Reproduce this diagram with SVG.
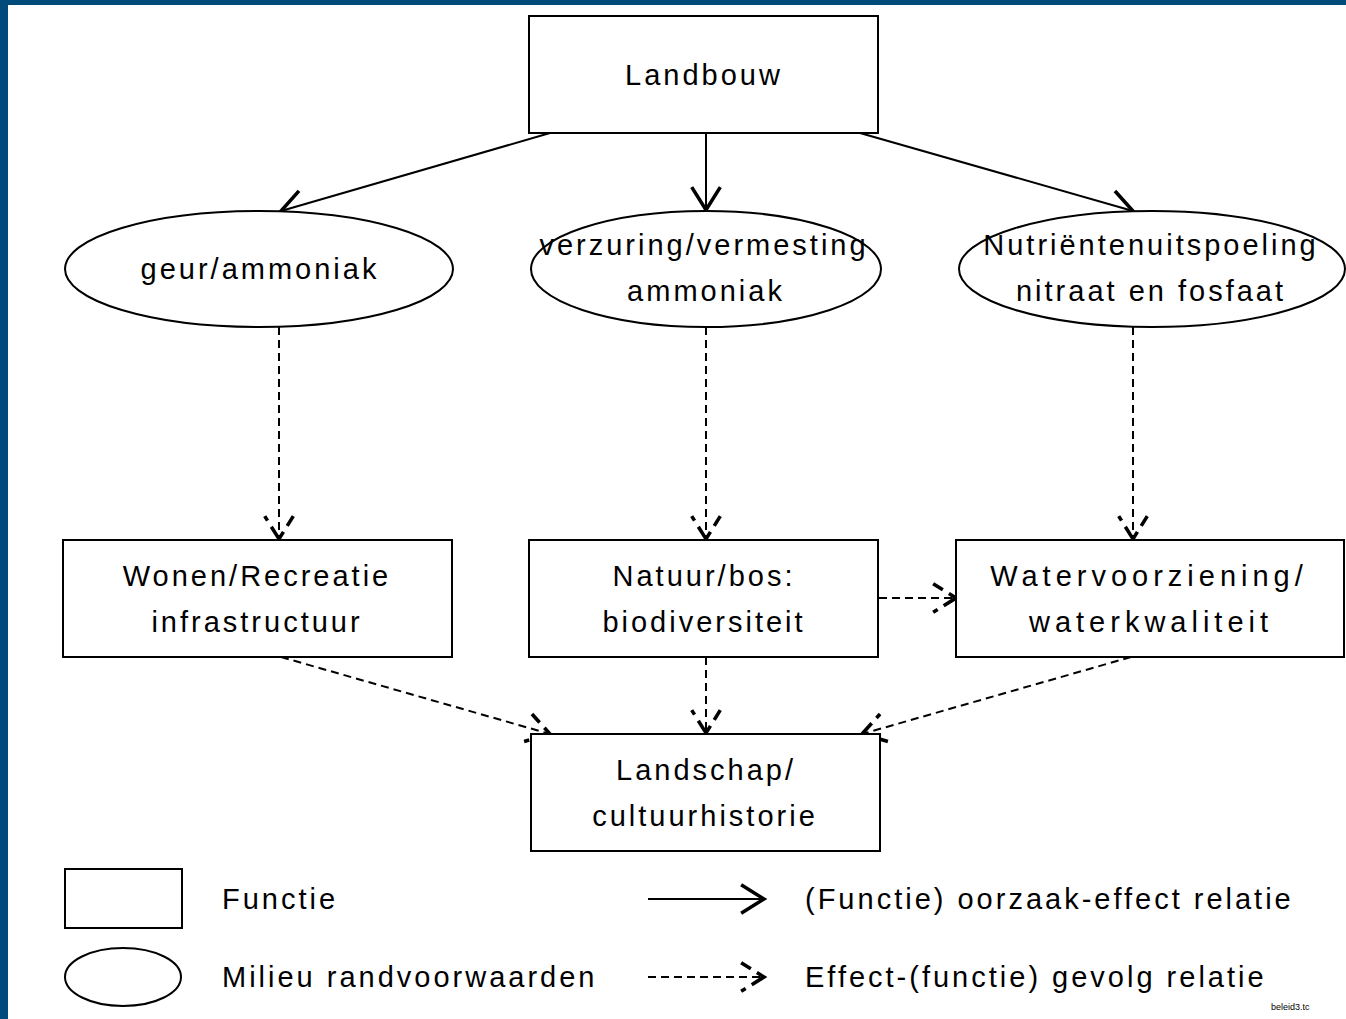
<svg xmlns="http://www.w3.org/2000/svg" width="1346" height="1019" viewBox="0 0 1346 1019">
<style>
.shape{fill:#fff;stroke:#000;stroke-width:2}
.t{font-family:"Liberation Sans",Arial,sans-serif;font-size:29px;letter-spacing:3px;fill:#000;text-anchor:middle}
.w{letter-spacing:5px}
.l{font-family:"Liberation Sans",Arial,sans-serif;font-size:29px;letter-spacing:3px;fill:#000}
.solid{fill:none;stroke:#000;stroke-width:2}
.dash{fill:none;stroke:#000;stroke-width:2;stroke-dasharray:8 5}
</style>
<defs>
<marker id="ah" markerUnits="userSpaceOnUse" markerWidth="40" markerHeight="40" refX="0" refY="0" viewBox="-22 -14 26 28" orient="auto" overflow="visible">
<path d="M-16,-10 L0,0 L-16,10" fill="none" stroke="#000" stroke-width="2.5"/>
</marker>
<marker id="dh" markerUnits="userSpaceOnUse" markerWidth="40" markerHeight="40" refX="0" refY="0" viewBox="-22 -14 26 28" orient="auto" overflow="visible">
<path d="M-16,-10 L0,0 L-16,10" fill="none" stroke="#000" stroke-width="2.5" stroke-dasharray="8 5 8 0"/>
</marker>
</defs>
<rect x="0" y="0" width="1346" height="1019" fill="#fff"/>
<rect x="0" y="0" width="1346" height="5" fill="#004b7b"/>
<rect x="0" y="0" width="8" height="1019" fill="#004b7b"/>

<g id="connectors">
<path class="solid" d="M550,133 L281,211" marker-end="url(#ah)"/>
<path class="solid" d="M706,133 L706,210" marker-end="url(#ah)"/>
<path class="solid" d="M860,133 L1133,211" marker-end="url(#ah)"/>
<path class="dash" d="M279,327 L279,539" marker-end="url(#dh)"/>
<path class="dash" d="M706,327 L706,539" marker-end="url(#dh)"/>
<path class="dash" d="M1133,327 L1133,539" marker-end="url(#dh)"/>
<path class="dash" d="M879,598 L956,598" marker-end="url(#dh)"/>
<path class="dash" d="M281,657 L550,734" marker-end="url(#dh)"/>
<path class="dash" d="M706,657 L706,733" marker-end="url(#dh)"/>
<path class="dash" d="M1131,657 L862,734" marker-end="url(#dh)"/>
</g>

<g id="landbouw">
<rect class="shape" x="529" y="16" width="349" height="117"/>
<text class="t" x="704" y="85">Landbouw</text>
</g>
<g id="geur">
<ellipse class="shape" cx="259" cy="269" rx="194" ry="58"/>
<text class="t" x="260" y="279">geur/ammoniak</text>
</g>
<g id="verzuring">
<ellipse class="shape" cx="706" cy="269" rx="175" ry="58"/>
<text class="t" x="704" y="255">verzuring/vermesting</text>
<text class="t" x="706" y="301">ammoniak</text>
</g>
<g id="nutrienten">
<ellipse class="shape" cx="1152" cy="269" rx="193" ry="58"/>
<text class="t" x="1151" y="255">Nutriëntenuitspoeling</text>
<text class="t" x="1151" y="301">nitraat en fosfaat</text>
</g>
<g id="wonen">
<rect class="shape" x="63" y="540" width="389" height="117"/>
<text class="t" x="257" y="586">Wonen/Recreatie</text>
<text class="t" x="257" y="632">infrastructuur</text>
</g>
<g id="natuur">
<rect class="shape" x="529" y="540" width="349" height="117"/>
<text class="t" x="704" y="586">Natuur/bos:</text>
<text class="t" x="704" y="632">biodiversiteit</text>
</g>
<g id="water">
<rect class="shape" x="956" y="540" width="388" height="117"/>
<text class="t w" x="1149" y="586">Watervoorziening/</text>
<text class="t w" x="1151" y="632">waterkwaliteit</text>
</g>
<g id="landschap">
<rect class="shape" x="531" y="734" width="349" height="117"/>
<text class="t" x="706" y="780">Landschap/</text>
<text class="t" x="705" y="826">cultuurhistorie</text>
</g>

<g id="legend">
<rect class="shape" x="65" y="869" width="117" height="59"/>
<text class="l" x="222" y="909">Functie</text>
<ellipse class="shape" cx="123" cy="977" rx="58" ry="29"/>
<text class="l" x="222" y="987">Milieu randvoorwaarden</text>
<path class="solid" d="M648,899 L764,899" marker-end="url(#ah)"/>
<text class="l" x="805" y="909">(Functie) oorzaak-effect relatie</text>
<path class="dash" d="M648,977 L764,977" marker-end="url(#dh)"/>
<text class="l" x="805" y="987">Effect-(functie) gevolg relatie</text>
</g>
<text x="1271" y="1010" font-family="Liberation Sans,Arial,sans-serif" font-size="9" fill="#000">beleid3.tc</text>
</svg>
